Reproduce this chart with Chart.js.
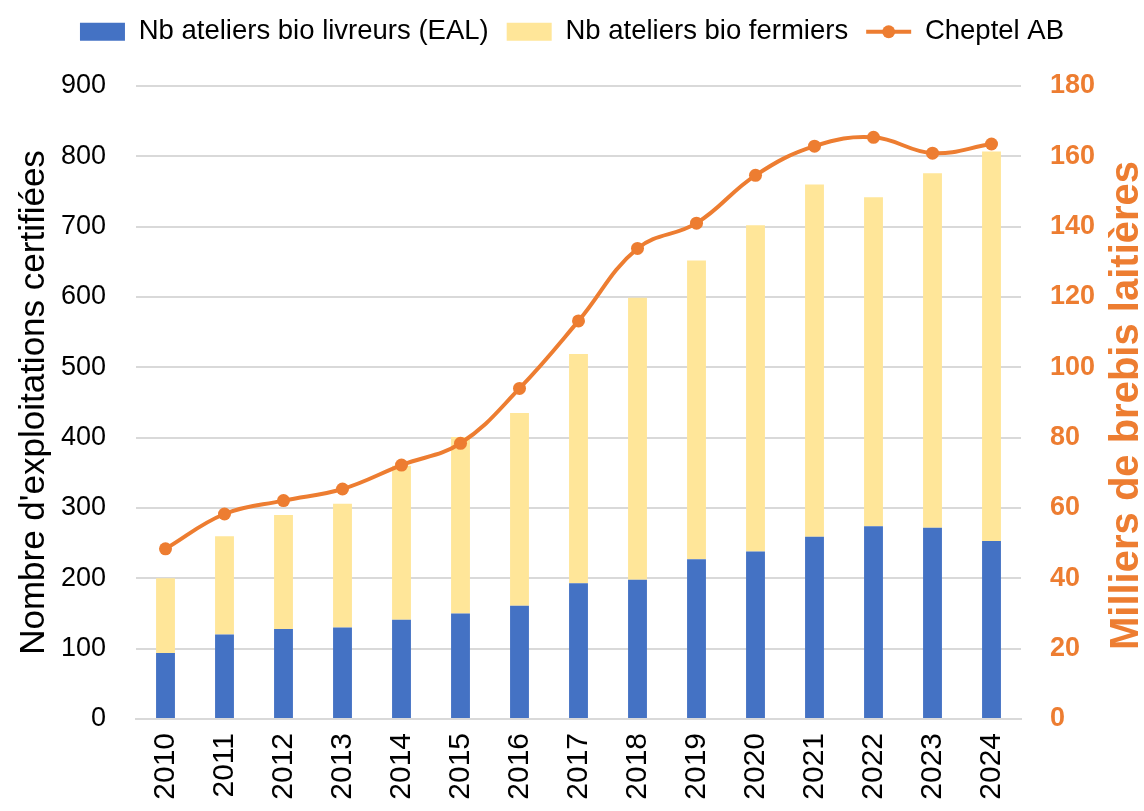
<!DOCTYPE html>
<html lang="fr">
<head>
<meta charset="utf-8">
<title>Ateliers bio et cheptel AB</title>
<script src="https://cdn.jsdelivr.net/npm/chart.js@4.4.1/dist/chart.umd.min.js"></script>
<style>
  html, body { margin: 0; padding: 0; background: #fff; }
  #wrap { width: 1144px; height: 811px; position: relative; }
</style>
</head>
<body>
<div id="wrap"><canvas id="bioChart"></canvas></div>
<script>
// ── Data ────────────────────────────────────
const YEARS = ['2010', '2011', '2012', '2013', '2014', '2015', '2016', '2017',
               '2018', '2019', '2020', '2021', '2022', '2023', '2024'];

// Nb ateliers bio livreurs (EAL) — bottom of the stack
const livreurs = [94, 120, 128, 130, 141, 150, 161, 193, 198, 227, 238, 259, 274, 272, 253];

// Nb ateliers bio fermiers — top of the stack
const fermiers = [106, 140, 162, 176, 219, 251, 274, 326, 401, 425, 464, 501, 468, 504, 554];

// Cheptel AB, milliers de brebis laitières (right axis)
const cheptel = [48.4, 58.3, 62.1, 65.4, 72.2, 78.4, 94.0, 113.2, 133.8, 141.0, 154.6, 162.9, 165.4, 160.9, 163.5];

const LEFT_TICKS  = { min: 0, max: 900, step: 100 };
const RIGHT_TICKS = { min: 0, max: 180, step: 20 };

// ── Colours ─────────────────────────────────
const BLUE   = '#4472C4';
const YELLOW = '#FFE699';
const ORANGE = '#ED7D31';
const GRID   = '#D9D9D9';

const FONT = "'Liberation Sans Narrow', 'Liberation Sans', Arial, sans-serif";
Chart.defaults.font.family = FONT;
Chart.defaults.color = '#000';

// ── Small layout plugins ─────────────────────
const legendHeight = {
  id: 'legendHeight',
  beforeInit(chart) {
    const fit = chart.legend.fit;
    chart.legend.fit = function () {
      fit.bind(chart.legend)();
      this.height = 86;
    };
  }
};

// right axis title reads bottom-to-top, like the left one
const rightTitle = {
  id: 'rightTitle',
  afterDraw(chart) {
    const { ctx, chartArea } = chart;
    ctx.save();
    ctx.translate(1127, (chartArea.top + chartArea.bottom) / 2 + 3);
    ctx.rotate(-Math.PI / 2);
    ctx.font = 'bold 40px ' + FONT;
    ctx.fillStyle = ORANGE;
    ctx.textAlign = 'center';
    ctx.textBaseline = 'middle';
    ctx.fillText('Milliers de brebis laitières', 0, 0);
    ctx.restore();
  }
};

// dot in the middle of the line marker of the legend
const legendDot = {
  id: 'legendDot',
  afterDraw(chart) {
    const box = chart.legend.legendHitBoxes[2];
    if (!box) return;
    const ctx = chart.ctx;
    ctx.save();
    ctx.fillStyle = ORANGE;
    ctx.beginPath();
    ctx.arc(box.left + 45 / 2, box.top + box.height / 2, 6.5, 0, Math.PI * 2);
    ctx.fill();
    ctx.restore();
  }
};

const ctx = document.getElementById('bioChart').getContext('2d');

new Chart(ctx, {
  type: 'bar',
  data: {
    labels: YEARS,
    datasets: [
      {
        label: 'Nb ateliers bio livreurs (EAL)',
        data: livreurs,
        backgroundColor: BLUE,
        borderWidth: 0,
        yAxisID: 'y',
        stack: 'ateliers',
        order: 1
      },
      {
        label: 'Nb ateliers bio fermiers',
        data: fermiers,
        backgroundColor: YELLOW,
        borderWidth: 0,
        yAxisID: 'y',
        stack: 'ateliers',
        order: 2
      },
      {
        type: 'line',
        label: 'Cheptel AB',
        data: cheptel,
        borderColor: ORANGE,
        backgroundColor: ORANGE,
        borderWidth: 4,
        tension: 0.4,
        pointStyle: 'circle',
        pointRadius: 6.5,
        pointHoverRadius: 6.5,
        pointBackgroundColor: ORANGE,
        pointBorderWidth: 0,
        yAxisID: 'y1',
        order: 0
      }
    ]
  },
  options: {
    responsive: true,
    maintainAspectRatio: false,
    animation: false,
    layout: { padding: 0 },
    datasets: {
      bar: { categoryPercentage: 1, barPercentage: 0.32 }
    },
    plugins: {
      tooltip: { enabled: false },
      legend: {
        position: 'top',
        labels: {
          font: { size: 27.5 },
          color: '#000',
          usePointStyle: true,
          pointStyleWidth: 45,
          boxHeight: 18,
          padding: 18,
          generateLabels(chart) {
            const items = Chart.defaults.plugins.legend.labels.generateLabels(chart);
            items.forEach(it => {
              if (it.datasetIndex === 2) {
                it.pointStyle  = 'line';
                it.lineWidth   = 4;
                it.strokeStyle = ORANGE;
              } else {
                it.pointStyle = 'rect';
              }
            });
            return items;
          },
          sort: (a, b) => a.datasetIndex - b.datasetIndex
        }
      }
    },
    scales: {
      x: {
        stacked: true,
        grid: { display: false, drawTicks: false },
        border: { display: true, color: GRID, width: 2 },
        ticks: {
          font: { size: 30 },
          color: '#000',
          minRotation: 90,
          maxRotation: 90,
          padding: 14
        },
        afterFit(scale) { scale.height = 811 - 719; }
      },
      y: {
        position: 'left',
        stacked: true,
        min: LEFT_TICKS.min,
        max: LEFT_TICKS.max,
        grid: { color: GRID, lineWidth: 2, drawTicks: false },
        border: { display: false },
        ticks: {
          stepSize: LEFT_TICKS.step,
          font: { size: 27 },
          color: '#000',
          padding: 30
        },
        title: {
          display: true,
          text: "Nombre d'exploitations certifiées",
          font: { size: 35, lineHeight: 1 },
          color: '#000',
          padding: { top: 17, bottom: 0 }
        },
        afterFit(scale) { scale.width = 136; }
      },
      y1: {
        position: 'right',
        min: RIGHT_TICKS.min,
        max: RIGHT_TICKS.max,
        grid: { display: false, drawTicks: false },
        border: { display: false },
        ticks: {
          stepSize: RIGHT_TICKS.step,
          font: { size: 27, weight: 'bold' },
          color: ORANGE,
          padding: 29
        },
        afterFit(scale) { scale.width = 1144 - 1021; }
      }
    }
  },
  plugins: [legendHeight, rightTitle, legendDot]
});
</script>
</body>
</html>
